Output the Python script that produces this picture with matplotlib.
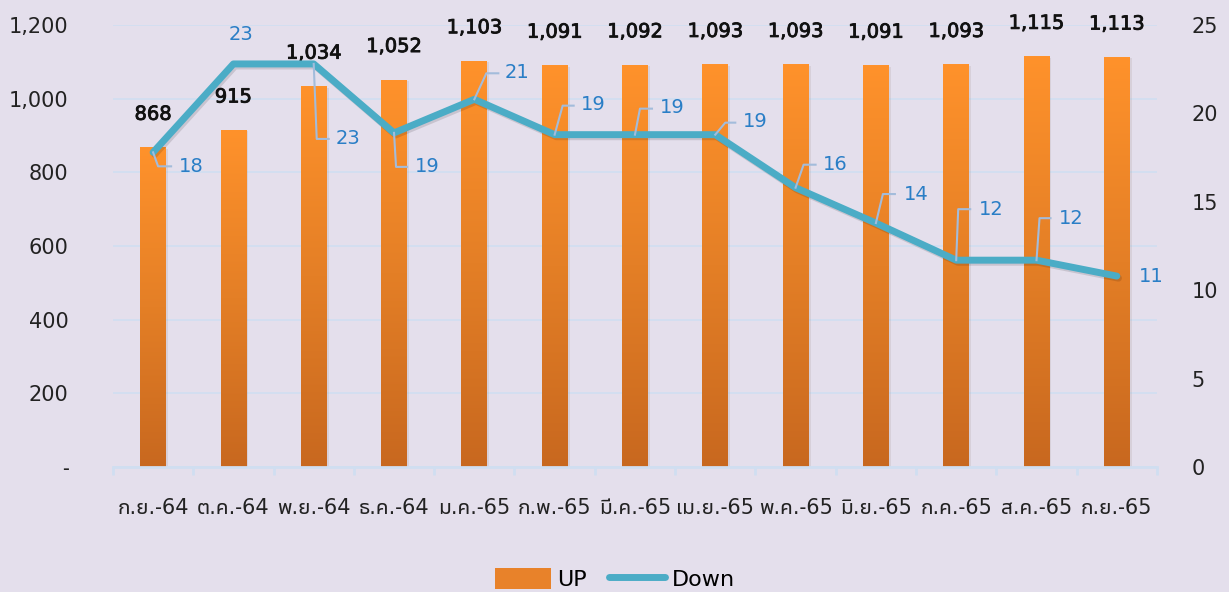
import numpy as np
import matplotlib
matplotlib.use("Agg")
import matplotlib.pyplot as plt
from matplotlib import font_manager
from matplotlib.ft2font import FT2Font
from matplotlib.lines import Line2D
from matplotlib.patches import Patch
from matplotlib.transforms import IdentityTransform
from matplotlib.colors import LinearSegmentedColormap
import matplotlib.patheffects as pe

months = ['ก.ย.-64', 'ต.ค.-64', 'พ.ย.-64', 'ธ.ค.-64', 'ม.ค.-65', 'ก.พ.-65', 'มี.ค.-65',
          'เม.ย.-65', 'พ.ค.-65', 'มิ.ย.-65', 'ก.ค.-65', 'ส.ค.-65', 'ก.ย.-65']
up_vals = [868, 915, 1034, 1052, 1103, 1091, 1092, 1093, 1093, 1091, 1093, 1115, 1113]
down_vals = [17.8, 22.8, 22.8, 18.9, 20.8, 18.8, 18.8, 18.8, 15.8, 13.8, 11.7, 11.7, 10.8]
left_ticks = [0, 200, 400, 600, 800, 1000, 1200]
left_labels = ['-', '200', '400', '600', '800', '1,000', '1,200']
right_ticks = [0, 5, 10, 15, 20, 25]

# label placement for the Down series, in pixels from the point:
# (text dx, text dy, leader corner dx, dy, leader end dx) ; None = no leader
down_label_pos = [
    (38, -14, (5, -14, 18)),
    (8, 29, None),
    (34, -75, (3, -75, 15)),
    (33, -34, (2, -34, 13)),
    (43, 27, (12, 26, 24)),
    (39, 30, (8, 29, 19)),
    (37, 27, (5, 26, 17)),
    (40, 13, (10, 12, 20)),
    (40, 23, (8, 23, 20)),
    (40, 29, (7, 29, 19)),
    (35, 51, (2, 51, 14)),
    (35, 42, (3, 42, 14)),
    (34, 0, None),
]


def find_thai_font():
    prefs = ['Leelawadee UI', 'Tahoma', 'Noto Sans Thai UI', 'Noto Sans Thai', 'Loma',
             'Garuda', 'Sarabun', 'Kinnari', 'Norasi', 'Waree', 'Umpush']
    found = {}
    for f in font_manager.fontManager.ttflist:
        try:
            cm = FT2Font(f.fname).get_charmap()
        except Exception:
            continue
        if 0x0E01 in cm:
            found.setdefault(f.name, f.fname)
    for p in prefs:
        if p in found:
            return p
    if found:
        return sorted(found)[0]
    return None


thai = find_thai_font()
fams = [thai, 'DejaVu Sans'] if thai else ['DejaVu Sans']
plt.rcParams['font.family'] = fams

bg = '#E4DFEC'
grid_c = '#D0DEF1'
line_c = '#4BACC6'
lab_c = '#2A7EC6'
lead_c = '#A3BCDB'

fig = plt.figure(figsize=(12.29, 5.92), dpi=100, facecolor=bg)
ax = fig.add_axes([0.0919, 0.2111, 0.8495, 0.7466])
ax.set_facecolor(bg)
x = np.arange(len(months))

bars = ax.bar(x, up_vals, width=0.32, color='#F08A2A', zorder=2,
              path_effects=[pe.SimplePatchShadow(offset=(1.5, -1), alpha=0.08), pe.Normal()])
cmap = LinearSegmentedColormap.from_list('org', ['#C8681F', '#E47F26', '#FF922B'])
grad = np.linspace(0, 1, 256).reshape(-1, 1)
for b in bars:
    x0, w, h = b.get_x(), b.get_width(), b.get_height()
    im = ax.imshow(grad, extent=[x0, x0 + w, 0, h], origin='lower', aspect='auto',
                   cmap=cmap, zorder=2.1)
    im.set_clip_path(b)

ax.set_xlim(-0.5, len(months) - 0.5)
ax.set_ylim(0, 1200)
ax.set_yticks(left_ticks)
ax.set_yticklabels(left_labels)
ax.yaxis.grid(True, color=grid_c, lw=1.2, zorder=0)
ax.set_axisbelow(True)
for s in ['top', 'left', 'right']:
    ax.spines[s].set_visible(False)
ax.spines['bottom'].set_color(grid_c)
ax.spines['bottom'].set_linewidth(2)
ax.tick_params(axis='y', length=0, pad=32, labelsize=15, labelcolor='#222222')
ax.set_xticks(x)
ax.set_xticklabels(months)
ax.set_xticks(np.arange(-0.5, len(months)), minor=True)
ax.tick_params(axis='x', which='major', length=0, pad=22, labelsize=15, labelcolor='#222222')
ax.tick_params(axis='x', which='minor', length=6, width=2, color=grid_c)

# bar value labels, normal weight with a thin stroke to look medium
for i, v in enumerate(up_vals):
    ax.annotate(f'{v:,}', xy=(i, v), xytext=(0, 33 * 0.72), textcoords='offset points',
                ha='center', va='center', fontsize=14, color='#111111',
                path_effects=[pe.withStroke(linewidth=0.6, foreground='#111111')])

ax2 = ax.twinx()
ax2.set_ylim(0, 25)
ax2.set_yticks(right_ticks)
for s in ax2.spines.values():
    s.set_visible(False)
ax2.tick_params(axis='y', length=0, pad=25, labelsize=15, labelcolor='#222222')
ax2.plot(x, down_vals, color=line_c, lw=5, solid_capstyle='round', solid_joinstyle='round',
         zorder=3, path_effects=[pe.SimpleLineShadow(offset=(1.2, -1.5), alpha=0.12), pe.Normal()])

for i, v in enumerate(down_vals):
    tdx, tdy, lead = down_label_pos[i]
    px, py = ax2.transData.transform((i, v))
    if lead:
        cx, cy, ex = lead
        fig.add_artist(Line2D([px, px + cx, px + ex], [py, py + cy, py + cy],
                              transform=IdentityTransform(), color=lead_c, lw=1.5, zorder=4))
    ax2.annotate(f'{round(v)}', xy=(i, v), xytext=(tdx * 0.72, tdy * 0.72),
                 textcoords='offset points', ha='center', va='center', fontsize=14, color=lab_c)

handles = [Patch(facecolor='#E8822A', edgecolor='none'),
           Line2D([0], [0], color=line_c, lw=5, solid_capstyle='round')]
fig.legend(handles, ['UP', 'Down'], loc='center', bbox_to_anchor=(615 / 1229, 1 - 579 / 592),
           ncol=2, frameon=False, fontsize=16, handlelength=2.5, handleheight=1.05,
           handletextpad=0.3, columnspacing=1.0)

fig.savefig('out.png', facecolor=bg)
